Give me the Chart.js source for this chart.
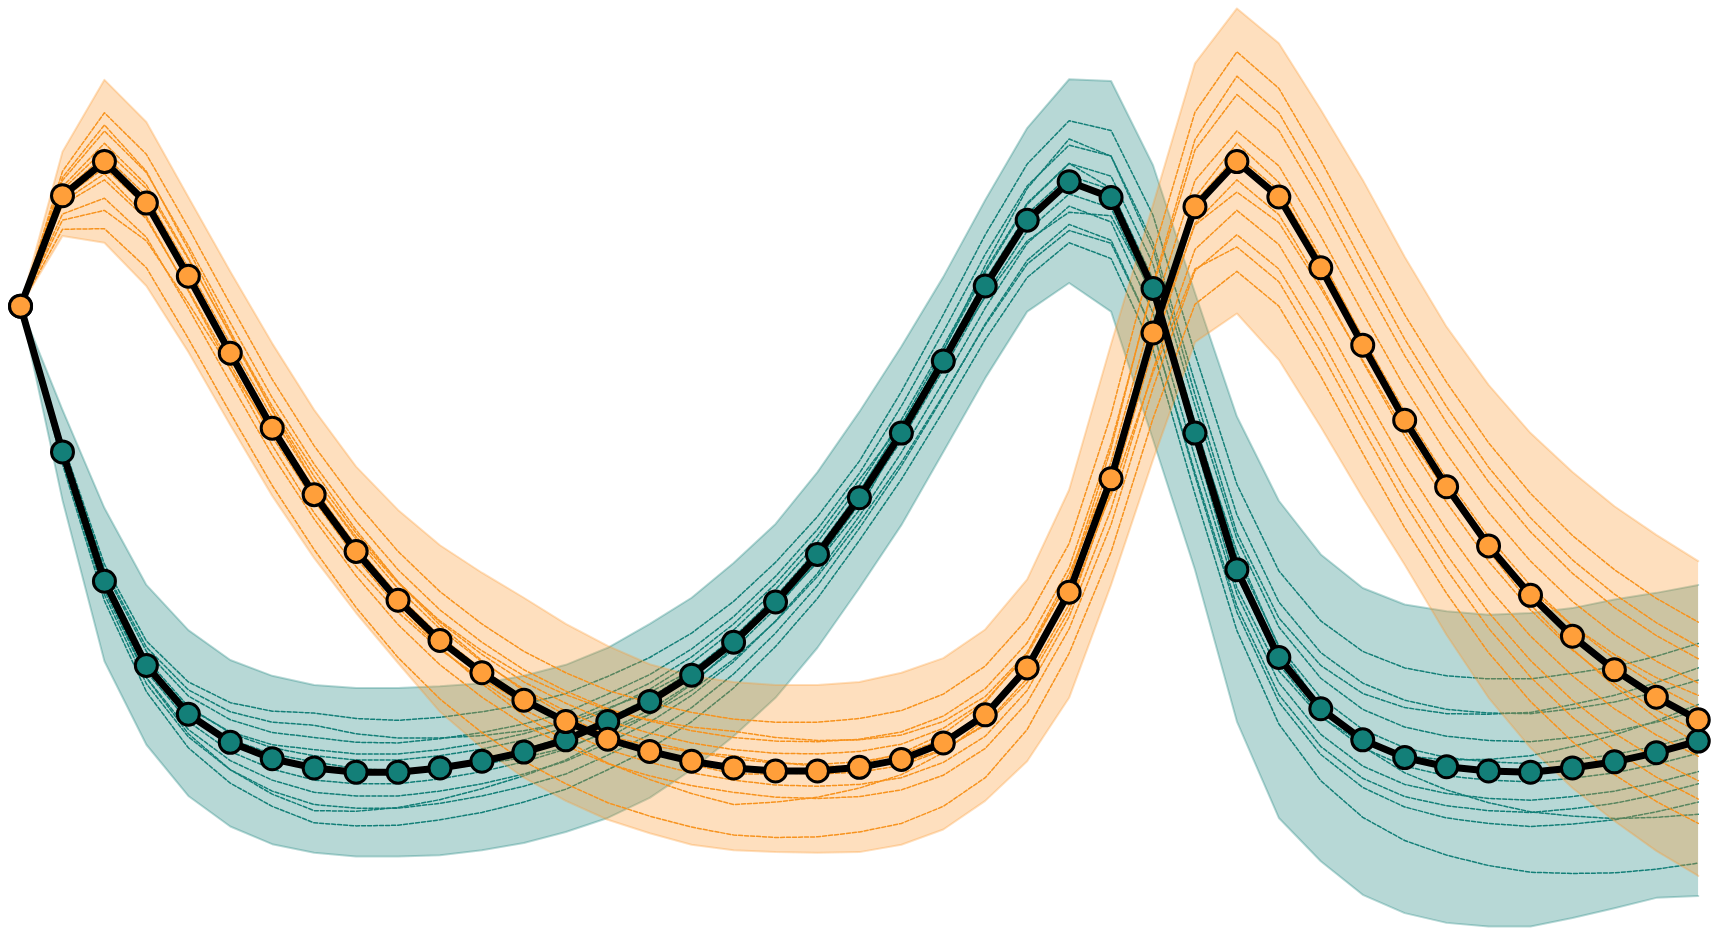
<!DOCTYPE html>
<html>
<head>
<meta charset="utf-8">
<script src="https://cdn.jsdelivr.net/npm/chart.js@4.4.1/dist/chart.umd.min.js"></script>
<style>
  html, body { margin: 0; padding: 0; background: #ffffff; }
  #wrap { width: 1718px; height: 938px; }
</style>
</head>
<body>
<div id="wrap"><canvas id="runsChart" width="1718" height="938"></canvas></div>
<script>
// ---- data ----
const steps = [0,1,2,3,4,5,6,7,8,9,10,11,12,13,14,15,16,17,18,19,20,21,22,23,24,25,26,27,28,29,30,31,32,33,34,35,36,37,38,39,40];

const orangeMean = [76.2, 94.3, 99.9, 93.1, 81.1, 68.5, 56.2, 45.3, 36.0, 28.0, 21.4, 16.1, 11.6, 8.1, 5.2, 3.2, 1.6, 0.5, 0.0, 0.0, 0.6, 1.9, 4.6, 9.2, 16.9, 29.3, 47.9, 71.8, 92.5, 99.9, 94.1, 82.5, 69.8, 57.5, 46.6, 36.9, 28.8, 22.1, 16.6, 12.1, 8.4];
const orangeUpper = [76.2, 101.5, 113.3, 106.4, 94.1, 81.9, 70.1, 59.2, 49.9, 42.8, 37.0, 32.5, 28.4, 24.1, 20.5, 17.5, 15.6, 14.6, 14.1, 14.1, 14.6, 16.1, 18.5, 23.2, 31.4, 46.1, 70.0, 92.8, 116.0, 125.0, 119.3, 108.4, 96.9, 84.3, 72.8, 63.3, 55.4, 49.0, 43.4, 38.7, 34.4];
const orangeLower = [76.2, 87.7, 86.6, 79.5, 68.7, 56.7, 45.1, 34.9, 25.9, 17.7, 9.7, 3.8, -1.1, -4.9, -8.0, -10.2, -12.1, -13.0, -13.3, -13.4, -13.3, -12.1, -9.6, -4.9, 1.6, 12.0, 30.5, 51.0, 70.3, 75.0, 67.4, 56.4, 44.8, 33.8, 22.3, 12.0, 3.8, -2.8, -8.2, -13.1, -17.2];
const orangeRuns = [
  [76.2, 98.3, 107.9, 101.1, 89.1, 76.5, 64.2, 53.3, 44.0, 36.0, 29.4, 24.1, 19.6, 16.1, 13.2, 11.2, 9.6, 8.5, 8.0, 8.0, 8.6, 9.9, 12.6, 17.2, 24.9, 37.3, 58.4, 84.8, 108.0, 117.9, 111.9, 100.1, 87.3, 74.8, 63.7, 53.8, 45.5, 38.6, 33.0, 28.3, 24.4],
  [76.2, 97.3, 105.9, 98.3, 85.5, 72.1, 59.0, 47.3, 38.4, 30.8, 24.6, 19.7, 15.6, 12.5, 10.0, 8.4, 7.2, 6.5, 5.5, 5.0, 5.1, 5.9, 8.1, 12.2, 19.4, 31.3, 52.9, 79.8, 103.5, 113.9, 107.9, 96.1, 83.3, 70.8, 59.7, 49.8, 41.5, 34.6, 29.0, 24.3, 20.4],
  [76.2, 96.8, 104.9, 98.1, 86.1, 73.5, 61.2, 50.3, 41.0, 33.0, 26.4, 21.1, 16.6, 13.1, 10.2, 8.2, 6.6, 5.5, 4.9, 4.8, 5.2, 6.4, 9.0, 13.5, 21.0, 33.3, 53.7, 79.3, 101.8, 110.9, 105.0, 93.3, 80.5, 68.1, 57.1, 47.4, 39.2, 32.4, 26.8, 22.2, 18.4],
  [76.2, 95.8, 102.9, 96.1, 84.1, 71.5, 59.2, 48.3, 39.0, 31.0, 24.4, 19.1, 14.6, 11.1, 8.2, 6.2, 4.6, 3.5, 2.9, 2.8, 3.2, 4.4, 7.0, 11.5, 19.0, 31.3, 50.7, 75.3, 96.8, 104.9, 99.2, 87.7, 75.1, 62.9, 52.0, 42.4, 34.4, 27.8, 22.4, 18.0, 14.4],
  [76.2, 95.3, 101.9, 95.5, 83.9, 71.7, 59.8, 49.3, 39.5, 31.0, 23.9, 18.1, 13.1, 9.1, 5.7, 3.2, 1.1, -0.5, -0.5, 0.0, 1.1, 2.9, 6.1, 11.2, 19.4, 32.3, 48.9, 70.8, 89.5, 94.9, 89.9, 79.1, 67.3, 55.8, 45.7, 36.8, 29.7, 23.8, 19.1, 15.3, 12.4],
  [76.2, 94.8, 100.9, 94.3, 82.5, 70.1, 58.0, 47.3, 38.0, 29.9, 23.3, 17.9, 13.4, 9.8, 6.9, 4.8, 3.2, 2.0, 1.3, 1.1, 1.5, 2.7, 5.2, 9.6, 17.1, 29.3, 48.2, 72.3, 93.3, 100.9, 95.2, 83.7, 71.1, 58.9, 48.0, 38.4, 30.4, 23.8, 18.4, 14.0, 10.4],
  [76.2, 93.8, 98.9, 92.5, 80.9, 68.7, 56.8, 46.3, 36.9, 28.8, 22.1, 16.7, 12.1, 8.5, 5.5, 3.4, 1.7, 0.5, -0.3, -0.5, -0.2, 0.9, 3.4, 7.7, 15.2, 27.3, 45.7, 69.3, 89.8, 96.9, 91.2, 79.7, 67.1, 54.9, 44.0, 34.4, 26.4, 19.8, 14.4, 10.0, 6.4],
  [76.2, 93.3, 97.9, 90.9, 78.7, 65.9, 53.4, 42.3, 33.5, 26.0, 19.9, 15.1, 11.1, 8.1, 5.7, 4.2, 3.1, 2.5, 1.4, 0.8, 0.7, 1.4, 3.5, 7.5, 14.5, 26.3, 46.4, 71.8, 94.0, 102.9, 96.5, 84.2, 70.9, 58.0, 46.4, 36.1, 27.3, 20.0, 13.9, 8.7, 4.4],
  [76.2, 92.8, 96.9, 90.5, 78.9, 66.7, 54.8, 44.3, 34.9, 26.8, 20.1, 14.7, 10.1, 6.5, 3.5, 1.4, -0.3, -1.5, -2.3, -2.5, -2.2, -1.1, 1.4, 5.7, 13.2, 25.3, 42.9, 65.8, 85.5, 91.9, 86.3, 74.9, 62.3, 50.2, 39.5, 30.0, 22.1, 15.6, 10.2, 5.9, 2.4],
  [76.2, 91.3, 93.9, 87.5, 75.9, 63.7, 51.8, 41.3, 32.0, 24.0, 17.4, 12.1, 7.6, 4.1, 1.2, -0.8, -2.4, -3.5, -4.3, -4.5, -4.2, -3.1, -0.7, 3.7, 11.2, 23.3, 40.4, 62.8, 82.0, 87.9, 82.3, 70.9, 58.3, 46.2, 35.5, 26.0, 18.1, 11.6, 6.2, 1.9, -1.6],
  [76.2, 90.3, 91.9, 86.9, 76.7, 65.9, 55.4, 46.3, 36.3, 27.6, 20.3, 14.3, 9.1, 4.9, 1.3, -1.4, -3.7, -5.5, -5.1, -4.3, -2.8, -0.6, 3.0, 8.5, 17.0, 30.3, 45.2, 65.3, 82.3, 85.9, 80.2, 68.7, 56.1, 43.9, 33.0, 23.4, 15.4, 8.8, 3.4, -1.0, -4.6],
  [76.2, 88.8, 88.9, 82.5, 70.9, 58.7, 46.8, 36.3, 26.8, 18.6, 11.8, 6.3, 1.6, -2.1, -5.2, -7.4, -9.2, -10.5, -10.9, -10.8, -10.0, -8.6, -5.8, -1.1, 6.8, 19.3, 35.9, 57.8, 76.5, 81.9, 76.2, 64.7, 52.1, 39.9, 29.1, 19.4, 11.4, 4.8, -0.6, -5.0, -8.6]
];

const tealMean = [76.2, 52.3, 31.1, 17.3, 9.3, 4.7, 2.0, 0.5, -0.2, -0.2, 0.5, 1.6, 3.1, 5.1, 8.1, 11.4, 15.7, 21.1, 27.7, 35.5, 44.8, 55.4, 67.2, 79.5, 90.3, 96.6, 94.0, 79.1, 55.4, 33.0, 18.6, 10.2, 5.1, 2.2, 0.7, 0.0, -0.2, 0.5, 1.5, 3.0, 4.9];
const tealUpper = [76.2, 59.2, 43.1, 30.5, 23.1, 18.2, 15.6, 14.1, 13.6, 13.6, 13.9, 14.4, 15.6, 17.4, 20.2, 24.1, 28.4, 34.1, 40.5, 49.0, 58.9, 69.6, 81.0, 93.6, 105.4, 113.4, 113.1, 99.3, 78.4, 58.1, 44.3, 35.5, 30.0, 27.3, 26.2, 25.6, 25.9, 26.7, 28.1, 29.2, 30.5];
const tealLower = [76.2, 44.4, 18.0, 4.3, -4.1, -9.1, -12.0, -13.4, -14.0, -14.0, -13.8, -13.0, -11.8, -10.0, -7.7, -4.4, 0.2, 5.7, 12.0, 20.2, 30.0, 40.3, 52.3, 64.4, 75.3, 80.0, 75.3, 54.3, 33.0, 8.1, -7.7, -14.8, -20.3, -23.3, -24.9, -25.5, -25.5, -24.1, -22.5, -20.8, -20.5];
const tealRuns = [
  [76.2, 53.8, 33.9, 21.3, 14.6, 11.2, 9.8, 9.5, 8.6, 8.3, 8.8, 9.7, 10.9, 12.7, 15.5, 18.6, 22.6, 27.8, 34.2, 41.7, 50.8, 62.2, 74.8, 87.9, 99.5, 106.6, 105.0, 91.1, 68.4, 47.0, 32.8, 24.6, 19.6, 16.9, 15.6, 15.1, 15.1, 16.0, 17.1, 18.8, 20.9],
  [76.2, 53.3, 33.1, 20.3, 13.3, 9.7, 8.0, 7.5, 6.1, 5.4, 5.4, 5.8, 6.6, 7.9, 10.3, 12.9, 16.5, 21.2, 27.1, 34.2, 42.8, 55.2, 68.8, 82.9, 95.5, 103.6, 100.8, 85.6, 61.7, 39.0, 25.1, 17.3, 12.7, 10.4, 9.4, 9.3, 9.6, 10.9, 12.4, 14.5, 16.9],
  [76.2, 53.3, 32.8, 19.6, 12.3, 8.4, 6.3, 5.5, 4.7, 4.6, 5.3, 6.3, 7.7, 9.6, 12.6, 15.8, 20.0, 25.3, 31.9, 39.6, 48.8, 59.8, 72.0, 84.7, 95.9, 102.6, 100.8, 86.6, 63.7, 42.0, 27.7, 19.4, 14.4, 11.6, 10.1, 9.5, 9.4, 10.2, 11.3, 12.9, 14.9],
  [76.2, 51.3, 30.8, 17.6, 10.3, 6.4, 4.3, 3.5, 2.8, 2.8, 3.5, 4.6, 6.1, 8.1, 11.1, 14.4, 18.7, 24.1, 30.7, 38.5, 47.8, 56.8, 67.0, 77.7, 86.9, 91.6, 91.0, 78.1, 56.4, 36.0, 20.2, 10.5, 4.0, -0.3, -3.1, -5.2, -6.7, -7.4, -7.8, -7.6, -7.1],
  [76.2, 52.8, 31.9, 18.3, 10.6, 6.2, 3.8, 2.5, 1.8, 1.8, 2.5, 3.6, 5.1, 7.1, 10.1, 13.4, 17.7, 23.1, 29.7, 37.5, 46.8, 57.6, 69.6, 82.1, 93.1, 99.6, 97.5, 83.1, 59.9, 38.0, 23.6, 15.2, 10.1, 7.2, 5.7, 5.0, 4.8, 5.5, 6.5, 8.0, 9.9],
  [76.2, 52.3, 31.1, 17.3, 9.3, 4.7, 2.0, 0.5, -0.1, -0.1, 0.7, 1.9, 3.5, 5.6, 8.6, 12.0, 16.4, 21.9, 28.6, 36.4, 45.8, 56.4, 68.2, 80.5, 91.3, 97.6, 95.3, 80.6, 57.2, 35.0, 20.5, 12.0, 6.8, 3.8, 2.2, 1.5, 1.2, 1.8, 2.7, 4.1, 5.9],
  [76.2, 52.8, 30.4, 15.3, 6.1, 0.2, -3.8, -6.5, -6.6, -6.0, -4.7, -2.9, -0.8, 1.8, 5.4, 9.3, 14.2, 20.3, 27.5, 35.9, 45.8, 56.8, 69.0, 81.7, 92.9, 99.6, 95.5, 79.1, 53.9, 30.0, 16.4, 8.8, 4.6, 2.5, 1.8, 1.9, 2.5, 4.0, 5.9, 8.2, 10.9],
  [76.2, 51.8, 30.4, 16.3, 8.1, 3.2, 0.3, -1.5, -2.1, -2.1, -1.3, -0.1, 1.5, 3.6, 6.6, 10.0, 14.4, 19.9, 26.6, 34.4, 43.8, 54.2, 65.8, 77.9, 88.5, 94.6, 92.3, 77.6, 54.2, 32.0, 17.5, 9.0, 3.8, 0.8, -0.8, -1.5, -1.8, -1.2, -0.3, 1.1, 2.9],
  [76.2, 51.8, 30.9, 17.3, 9.6, 5.2, 2.8, 1.5, 0.4, 0.0, 0.3, 1.1, 2.2, 3.8, 6.4, 9.3, 13.2, 18.3, 24.5, 31.9, 40.8, 50.6, 61.6, 73.1, 83.1, 88.6, 86.5, 72.1, 48.9, 27.0, 12.5, 4.0, -1.2, -4.2, -5.7, -6.5, -6.8, -6.2, -5.3, -3.9, -2.1],
  [76.2, 51.3, 29.6, 15.3, 6.8, 1.7, -1.5, -3.5, -4.1, -4.1, -3.3, -2.1, -0.5, 1.6, 4.6, 8.0, 12.4, 17.9, 24.6, 32.4, 41.8, 52.2, 63.8, 75.9, 86.5, 92.6, 90.0, 75.1, 51.4, 29.0, 14.5, 6.0, 0.8, -2.2, -3.7, -4.5, -4.8, -4.2, -3.3, -1.9, -0.1],
  [76.2, 50.8, 28.9, 14.3, 5.6, 0.2, -3.3, -5.5, -6.1, -6.1, -5.3, -4.1, -2.5, -0.5, 2.6, 6.0, 10.4, 15.9, 22.6, 30.4, 39.8, 50.0, 61.4, 73.3, 83.7, 89.6, 87.0, 72.1, 48.4, 26.0, 11.3, 2.7, -2.7, -5.9, -7.7, -8.6, -9.1, -8.7, -8.0, -6.7, -5.1],
  [76.2, 50.3, 27.9, 13.0, 3.8, -2.0, -5.8, -8.5, -9.0, -8.9, -8.0, -6.8, -5.1, -3.0, 0.2, 3.6, 8.1, 13.6, 20.4, 28.3, 37.8, 47.8, 59.0, 70.7, 80.9, 86.6, 84.0, 69.1, 45.4, 23.0, 7.7, -1.6, -7.6, -11.4, -13.8, -15.5, -16.6, -16.8, -16.7, -16.1, -15.1]
];

// ---- colours ----
const ORANGE = "#FF9F3A";
const ORANGE_RUN = "#F7931E";
const ORANGE_BAND = "rgba(253,150,40,0.30)";
const TEAL = "#137F78";
const TEAL_RUN = "#137F78";
const TEAL_BAND = "rgba(17,127,120,0.30)";

function toPoints(values) {
  return values.map((v, i) => ({ x: steps[i], y: v }));
}

// upper edge fills down to the lower edge that follows it
function bandSets(upper, lower, color, order) {
  return [
    {
      data: toPoints(upper),
      borderColor: color,
      backgroundColor: color,
      borderWidth: 2,
      pointRadius: 0,
      fill: "+1",
      order: order
    },
    {
      data: toPoints(lower),
      borderColor: color,
      borderWidth: 2,
      pointRadius: 0,
      fill: false,
      order: order
    }
  ];
}

function runSets(runs, color, order) {
  return runs.map(r => ({
    data: toPoints(r),
    borderColor: color,
    borderWidth: 1.5,
    borderDash: [4, 2],
    pointRadius: 0,
    fill: false,
    order: order
  }));
}

function meanSet(values, color, order) {
  return {
    data: toPoints(values),
    borderColor: "#000000",
    borderWidth: 7,
    pointRadius: 11,
    pointBorderWidth: 3,
    pointBackgroundColor: color,
    pointBorderColor: "#000000",
    fill: false,
    order: order
  };
}

// higher order = drawn first (underneath)
const datasets = [
  ...bandSets(tealUpper, tealLower, TEAL_BAND, 100),
  ...runSets(tealRuns, TEAL_RUN, 90),
  ...bandSets(orangeUpper, orangeLower, ORANGE_BAND, 80),
  ...runSets(orangeRuns, ORANGE_RUN, 70),
  meanSet(tealMean, TEAL, 20),
  meanSet(orangeMean, ORANGE, 10)
];

new Chart(document.getElementById("runsChart").getContext("2d"), {
  type: "line",
  data: { datasets: datasets },
  options: {
    responsive: false,
    devicePixelRatio: 1,
    animation: false,
    clip: false,
    layout: { padding: 0, autoPadding: false },
    elements: { line: { tension: 0, borderJoinStyle: "round", borderCapStyle: "round" } },
    plugins: {
      legend: { display: false },
      tooltip: { enabled: false },
      filler: { drawTime: "beforeDatasetDraw" }
    },
    scales: {
      x: { type: "linear", min: -0.49, max: 40.47, display: false },
      y: { type: "linear", min: -27.38, max: 126.39, display: false }
    }
  }
});
</script>
</body>
</html>
